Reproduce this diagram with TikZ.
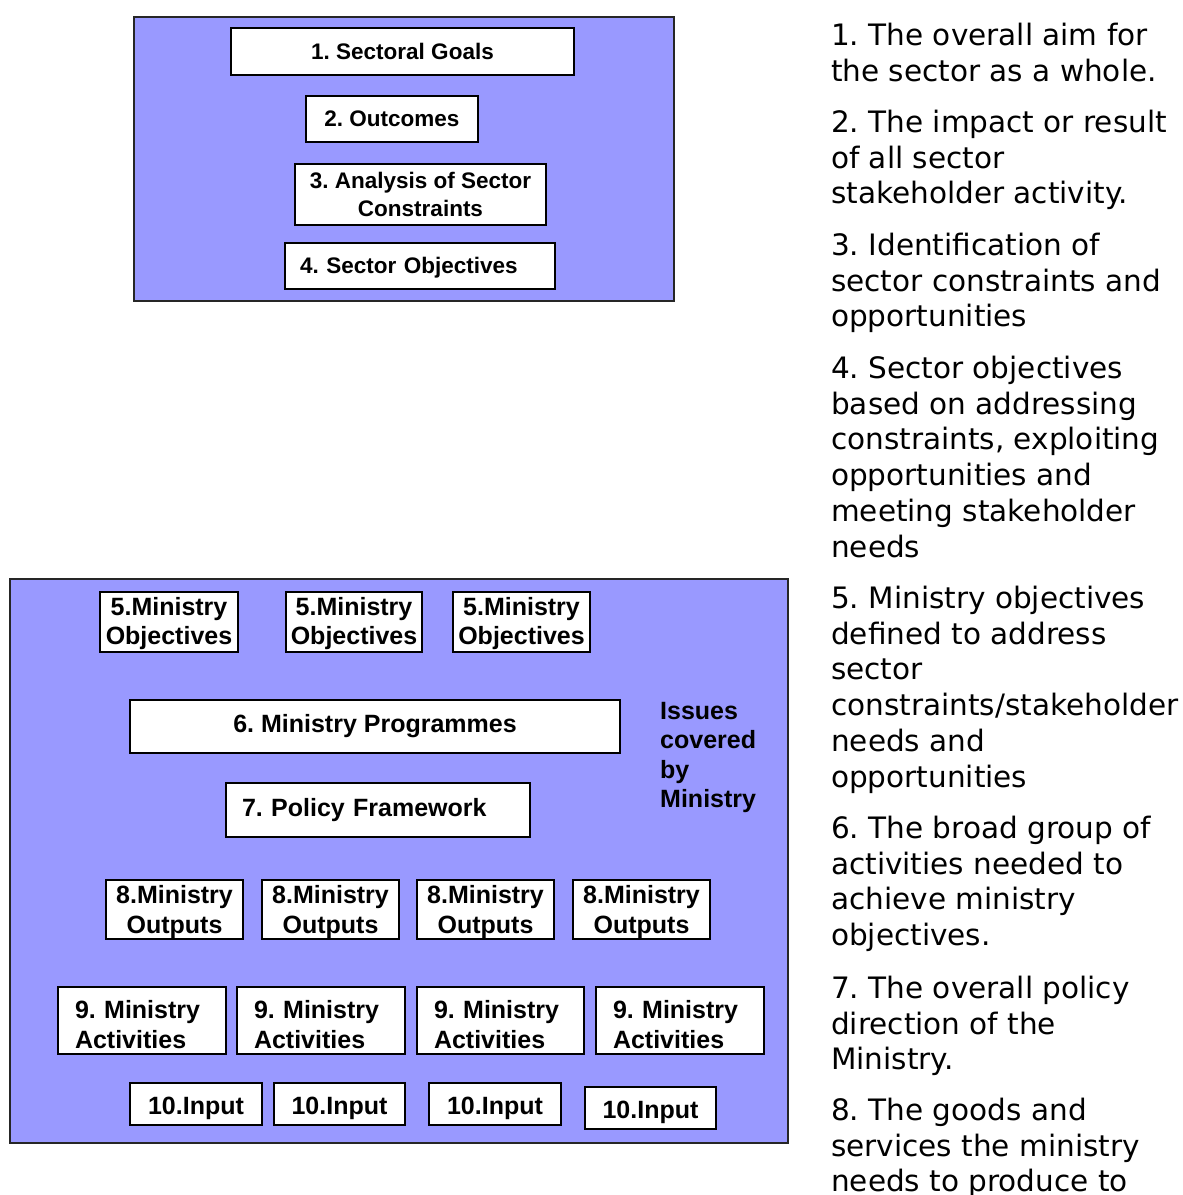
\documentclass[tikz,border=0pt]{standalone}
\usepackage{fontspec}
\usepackage{tikz}
\newfontfamily\arial{Liberation Sans}
\newfontfamily\verdana{DejaVu Sans}
\newcommand{\topfont}{\arial\bfseries\fontsize{22.5}{28}\selectfont}
\newcommand{\boxfont}{\arial\bfseries\fontsize{25}{29.5}\selectfont}
\newcommand{\notefont}{\verdana\fontsize{29.5}{35.8}\selectfont}
\newcommand{\lowered}[2]{\raisebox{-#1}[\height][\depth]{\begin{tabular}{@{}l@{}}#2\end{tabular}}}
\definecolor{panelblue}{RGB}{153,153,255}
\frenchspacing

\begin{document}
\begin{tikzpicture}[x=1pt,y=-1pt,
  panel/.style={draw=black!85, fill=panelblue, line width=1.5pt, inner sep=0pt},
  box/.style={draw, fill=white, line width=1.5pt, inner sep=0pt, align=center, font=\boxfont},
  topbox/.style={box, font=\topfont},
  actbox/.style={box, text width=134, inner xsep=17, minimum height=67, align=left},
  inbox/.style={box, minimum height=42},
  note/.style={font=\notefont, align=left, anchor=north west, inner sep=0pt}]
        \useasboundingbox (0,0) rectangle (1183,1195);
        % sector level
        \node[panel, minimum width=540, minimum height=284] (sector) at (404,159) {};
        \node[topbox, minimum width=343, minimum height=47] (goals) at (402.5,51.5) {1. Sectoral Goals};
        \node[topbox, minimum width=172, minimum height=46] (outcomes) at (392,119) {2. Outcomes};
        \node[topbox, minimum width=251, minimum height=61] (analysis) at (420.5,194.5) {3. Analysis of Sector\\Constraints};
        \node[topbox, text width=240, inner xsep=15, minimum height=46, align=left] (sectobj) at (420,266) {\lowered{2pt}{4. Sector Objectives}};
        % ministry level
        \node[panel, minimum width=778, minimum height=564] (ministry) at (399,861) {};
        \node[box, minimum width=138, minimum height=60] (mobj1) at (169,622) {\lowered{2pt}{\hfil5.Ministry\hfil\\Objectives}};
        \node[box, minimum width=136, minimum height=60] (mobj2) at (354,622) {\lowered{2pt}{\hfil5.Ministry\hfil\\Objectives}};
        \node[box, minimum width=137, minimum height=60] (mobj3) at (521.5,622) {\lowered{2pt}{\hfil5.Ministry\hfil\\Objectives}};
        \node[box, minimum width=490, minimum height=53] (progs) at (375,726.5) {6. Ministry Programmes};
        \node[box, text width=272, inner xsep=16, minimum height=54, align=left] (policy) at (378,810) {7. Policy Framework};
        \node[anchor=north west, inner sep=0pt, align=left, font=\boxfont] (issues) at (660,702) {Issues\\covered\\by\\Ministry};
        \node[box, minimum width=137, minimum height=59] (out1) at (174.5,909.5) {\lowered{3pt}{8.Ministry\\\hfil Outputs\hfil}};
        \node[box, minimum width=137, minimum height=59] (out2) at (330.5,909.5) {\lowered{3pt}{8.Ministry\\\hfil Outputs\hfil}};
        \node[box, minimum width=137, minimum height=59] (out3) at (485.5,909.5) {\lowered{3pt}{8.Ministry\\\hfil Outputs\hfil}};
        \node[box, minimum width=137, minimum height=59] (out4) at (641.5,909.5) {\lowered{3pt}{8.Ministry\\\hfil Outputs\hfil}};
        \node[actbox] (act1) at (142,1020.5) {\lowered{7pt}{9. Ministry\\Activities}};
        \node[actbox] (act2) at (321,1020.5) {\lowered{7pt}{9. Ministry\\Activities}};
        \node[actbox, text width=133] (act3) at (500.5,1020.5) {\lowered{7pt}{9. Ministry\\Activities}};
        \node[actbox] (act4) at (680,1020.5) {\lowered{7pt}{9. Ministry\\Activities}};
        \node[inbox, minimum width=132] (in1) at (196,1104) {\lowered{5pt}{10.Input}};
        \node[inbox, minimum width=131] (in2) at (339.5,1104) {\lowered{5pt}{10.Input}};
        \node[inbox, minimum width=132] (in3) at (495,1104) {\lowered{5pt}{10.Input}};
        \node[inbox, minimum width=131] (in4) at (650.5,1108) {\lowered{5pt}{10.Input}};
        % notes
        \node[note] (d1) at (831,22.6) {1. The overall aim for\\the sector as a whole.};
        \node[note] (d2) at (831,109.6) {2. The impact or result\\of all sector\\stakeholder activity.};
        \node[note] (d3) at (831,232.6) {3. Identification of\\sector constraints and\\opportunities};
        \node[note] (d4) at (831,355.6) {4. Sector objectives\\based on addressing\\constraints, exploiting\\opportunities and\\meeting stakeholder\\needs};
        \node[note] (d5) at (831,585.6) {5. Ministry objectives\\defined to address\\sector\\constraints/stakeholder\\needs and\\opportunities};
        \node[note] (d6) at (831,815.6) {6. The broad group of\\activities needed to\\achieve ministry\\objectives.};
        \node[note] (d7) at (831,975.6) {7. The overall policy\\direction of the\\Ministry.};
        \node[note] (d8) at (831,1097.6) {8. The goods and\\services the ministry\\needs to produce to};
\end{tikzpicture}
\end{document}
